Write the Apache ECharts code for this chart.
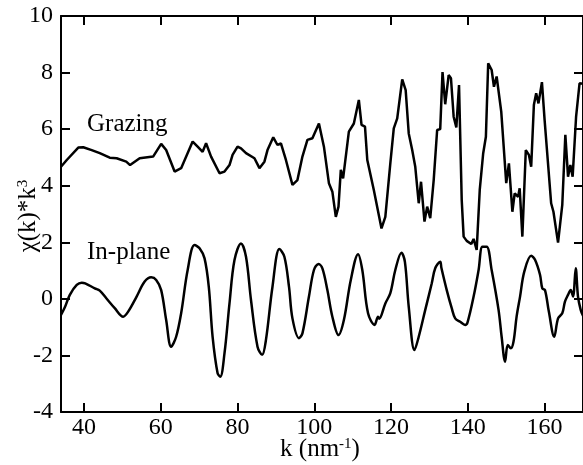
<!DOCTYPE html>
<html>
<head>
<meta charset="utf-8">
<script src="https://cdn.jsdelivr.net/npm/echarts@6/dist/echarts.min.js"></script>
<style>html,body{margin:0;padding:0;background:#fff}#c{width:583px;height:465px}</style>
</head>
<body>
<div id="c"></div>
<script>
var xTicks = [40, 60, 80, 100, 120, 140, 160];
var grazingK = [34,35.5,38.5,39.8,42,44.1,46.7,48.5,51,52,54.5,58,60.1,61.4,63.6,65.3,68.3,69.6,70.9,71.8,73.1,75.3,76.6,77.9,78.7,79,80,80.9,82.2,84.4,85.7,87,87.8,88.2,89.3,90.4,91.3,92.6,94.3,95.6,96.9,98.2,99.5,101.2,102.5,103.8,104.7,105.6,106.3,106.9,107.5,109,110.3,111.6,112.3,113.2,113.8,115.5,117.5,118.5,119.8,120.7,121.6,122.9,123.8,124.6,125.5,126.3,127.2,127.8,128.7,129.4,130.2,131.1,132,132.8,133.4,134.1,135,135.6,136.3,137,137.7,138.4,138.9,139.7,140.9,141.5,142.3,143.1,144,144.7,145.3,146.2,146.8,147.5,148.7,150,150.7,151.6,152.2,153.1,153.5,154.2,155.1,155.9,156.5,157.2,157.8,158.4,159.3,160,160.3,161.7,162.3,163.5,164.6,165.4,166.1,166.7,167.3,168.2,169.1,170];
var grazingChi = [4.67,4.91,5.35,5.36,5.26,5.15,4.99,4.97,4.85,4.73,4.97,5.03,5.48,5.26,4.5,4.62,5.56,5.38,5.2,5.5,5.03,4.44,4.5,4.73,5.09,5.03,5.38,5.32,5.15,4.97,4.62,4.85,5.26,5.2,5.71,5.44,5.5,4.91,4.03,4.2,5.03,5.62,5.68,6.2,5.38,4.09,3.79,2.9,3.26,4.56,4.26,5.91,6.2,7.03,6.15,6.09,4.91,3.85,2.49,2.9,4.79,6.03,6.38,7.76,7.38,5.85,5.26,4.67,3.38,4.14,2.73,3.26,2.85,4.2,5.97,6.0,8.02,6.88,7.91,7.8,6.44,6.06,7.56,3.5,2.2,2.05,1.94,2.12,1.73,3.85,5.15,5.73,8.33,8.09,7.5,7.86,6.62,4.09,4.79,3.08,3.73,3.61,3.91,2.2,5.26,5.09,4.67,6.85,7.27,6.91,7.66,6.32,6.3,3.38,3.08,1.99,3.32,5.8,4.32,4.73,4.32,6.44,7.62,7.6];
var inplaneK = [34,35,36.3,38.1,39.4,40.3,42.8,44.1,45.8,48,50.2,51.5,53.7,55.8,57.5,58.8,60.1,61.4,62.7,64,65.3,67,68.8,70.1,71.4,72.5,73.5,74.8,75.5,76.6,77.9,79.2,80.9,82.2,83.5,85.2,86.4,87.4,89.1,90.9,92.2,93.4,94.3,96,96.9,98.6,99.9,101.1,102.1,103.4,104.7,106.3,107.7,109.5,111.4,112.5,114,115.7,116.6,116.9,118.5,119.8,121.1,122.7,123.6,124.6,126.1,127.2,128.9,130.6,131.5,132.8,133.1,134.5,135.8,136.7,138,139.3,139.9,141.5,142.8,143.8,144.9,146.2,148,148.8,149.7,150.4,151.2,151.9,152.7,153.6,154.7,156.5,157.5,158.8,159.4,160.1,161.1,162.5,163.5,164.6,165.3,166.1,166.8,167.4,168.1,168.7,169.4,170];
var inplaneChi = [-0.57,-0.3,0.14,0.49,0.57,0.55,0.37,0.29,0.02,-0.33,-0.63,-0.45,0.08,0.61,0.76,0.67,0.31,-0.75,-1.69,-1.34,-0.51,1.02,1.9,1.79,1.43,0.43,-1.34,-2.63,-2.75,-1.92,-0.16,1.37,1.96,1.49,-0.04,-1.69,-1.98,-1.45,0.43,1.76,1.49,0.43,-0.69,-1.39,-1.22,0.08,1.02,1.23,1.08,0.31,-0.63,-1.28,-0.75,0.67,1.58,1.02,-0.51,-0.92,-0.63,-0.7,-0.16,0.2,1.02,1.63,1.31,-0.28,-1.81,-1.34,-0.39,0.55,1.08,1.31,1.1,0.31,-0.33,-0.69,-0.81,-0.92,-0.84,0.08,1.02,1.84,1.84,1.02,-0.39,-1.34,-2.22,-1.63,-1.75,-1.51,-0.63,0.08,0.96,1.52,1.38,0.85,0.37,0.31,-0.45,-1.34,-0.69,-0.51,-0.1,0.14,0.31,0.08,1.08,0.08,-0.39,-0.6];

function zip(a, b) { return a.map(function (v, i) { return [v, b[i]]; }); }

var FONT = 'Liberation Serif';
var chart = echarts.init(document.getElementById('c'), null, { renderer: 'canvas' });
var axisLine = { show: true, onZero: false, lineStyle: { color: '#000', width: 2 } };
var tick = { show: true, inside: true, length: 9, lineStyle: { color: '#000', width: 2 } };
chart.setOption({
  animation: false,
  backgroundColor: '#fff',
  grid: { left: 61, top: 16, width: 523.6, height: 396 },
  xAxis: [
    { type: 'value', min: 34, max: 170, position: 'bottom',
      axisLine: axisLine,
      axisTick: Object.assign({ customValues: xTicks }, tick),
      axisLabel: { customValues: xTicks, fontSize: 24, fontFamily: FONT, color: '#000', margin: 4 },
      splitLine: { show: false } },
    { type: 'value', min: 34, max: 170, position: 'top',
      axisLine: axisLine,
      axisTick: Object.assign({ customValues: xTicks }, tick),
      axisLabel: { show: false },
      splitLine: { show: false } }
  ],
  yAxis: [
    { type: 'value', min: -4, max: 10, interval: 2, position: 'left',
      axisLine: axisLine, axisTick: tick,
      axisLabel: { fontSize: 24, fontFamily: FONT, color: '#000', margin: 8 },
      splitLine: { show: false } },
    { type: 'value', min: -4, max: 10, interval: 2, position: 'right',
      axisLine: axisLine, axisTick: tick,
      axisLabel: { show: false },
      splitLine: { show: false } }
  ],
  series: [
    { name: 'Grazing', type: 'line', data: zip(grazingK, grazingChi), showSymbol: false,
      lineStyle: { color: '#000', width: 2.5 }, clip: true },
    { name: 'In-plane', type: 'line', data: zip(inplaneK, inplaneChi), showSymbol: false, smooth: 0.35,
      lineStyle: { color: '#000', width: 2.5 }, clip: true }
  ],
  graphic: [
    { type: 'text', x: 87, y: 124, style: { text: 'Grazing', font: '25px "Liberation Serif"', fill: '#000', align: 'left', verticalAlign: 'middle' } },
    { type: 'text', x: 87, y: 252.5, style: { text: 'In-plane', font: '25px "Liberation Serif"', fill: '#000', align: 'left', verticalAlign: 'middle' } },
    { type: 'text', x: 320, y: 449, style: {
        text: '{a|k (nm}{s|-1}{a|)}', align: 'center', verticalAlign: 'middle',
        rich: { a: { fontSize: 25, fontFamily: FONT, fill: '#000', color: '#000' },
                s: { fontSize: 15, fontFamily: FONT, fill: '#000', color: '#000', verticalAlign: 'top' } } } },
    { type: 'text', x: 28, y: 216, rotation: Math.PI / 2, style: {
        text: '{a|χ(k)*k}{s|3}', align: 'center', verticalAlign: 'middle',
        rich: { a: { fontSize: 25, fontFamily: FONT, fill: '#000', color: '#000' },
                s: { fontSize: 15, fontFamily: FONT, fill: '#000', color: '#000', verticalAlign: 'top' } } } }
  ]
});
</script>
</body>
</html>
